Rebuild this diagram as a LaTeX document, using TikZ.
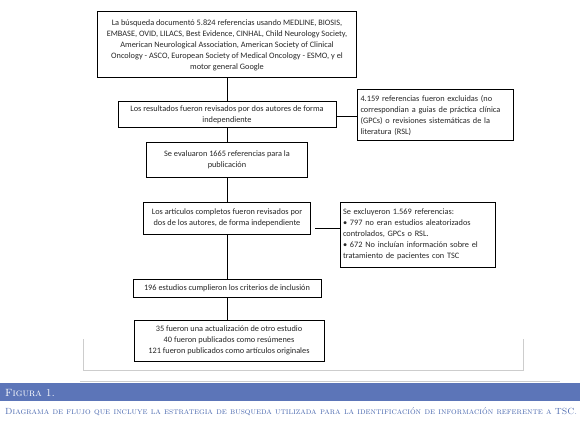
\documentclass[tikz,border=0pt]{standalone}
\usepackage{fontspec}
\newfontfamily\boxfont{Carlito}
\definecolor{barblue}{RGB}{92,117,184}
\definecolor{capblue}{RGB}{75,105,175}
\definecolor{framegray}{RGB}{205,205,205}
\begin{document}
\begin{tikzpicture}[x=1pt,y=-1pt,
  fbox/.style={draw=black,line width=1pt,inner sep=2pt,align=center,
    font=\boxfont\fontsize{8.3}{11}\selectfont,text=black!85},
  lbox/.style={fbox,align=left},
  conn/.style={draw=black,line width=1pt}]
\useasboundingbox (0,0) rectangle (580,422);
\node[fbox,minimum width=259pt,minimum height=66pt] (b1) at (227,45)
 {La búsqueda documentó 5.824 referencias usando MEDLINE, BIOSIS,\\
  EMBASE, OVID, LILACS, Best Evidence, CINHAL, Child Neurology Society,\\
  American Neurological Association, American Society of Clinical\\
  Oncology - ASCO, European Society of Medical Oncology - ESMO, y el\\
  motor general Google};
\node[fbox,minimum width=218pt,minimum height=26pt] (b2) at (227,115)
 {Los resultados fueron revisados por dos autores de forma\\ independiente};
\node[lbox,minimum width=156pt,minimum height=51pt,text width=150pt] (b3) at (435.5,115.5)
 {4.159 referencias fueron excluidas (no\\
  correspondian a guias de práctica clínica\\
  (GPCs) o revisiones sistemáticas de la\\
  literatura (RSL)};
\node[fbox,minimum width=161pt,minimum height=34pt] (b4) at (227,160)
 {Se evaluaron 1665 referencias para la\\ publicación};
\node[fbox,minimum width=167pt,minimum height=32pt] (b5) at (227,218)
 {Los artículos completos fueron revisados por\\ dos de los autores, de forma independiente};
\node[lbox,minimum width=155pt,minimum height=65pt,text width=149pt] (b6) at (417.5,234.5)
 {Se excluyeron 1.569 referencias:\\
  \textbullet\ 797 no eran estudios aleatorizados\\
  controlados, GPCs o RSL.\\
  \textbullet\ 672 No incluían información sobre el\\
  tratamiento de pacientes con TSC};
\node[fbox,minimum width=188pt,minimum height=18pt] (b7) at (227,288)
 {196 estudios cumplieron los criterios de inclusión};
\node[fbox,minimum width=190pt,minimum height=41pt] (b8) at (229,340.5)
 {35 fueron una actualización de otro estudio\\
  40 fueron publicados como resúmenes\\
  121 fueron publicados como artículos originales};
% connectors
\draw[conn] (b1.south) -- (b1.south |- b2.north);
\draw[conn] (b2.south) -- (b2.south |- b4.north);
\draw[conn] (b4.south) -- (b4.south |- b5.north);
\draw[conn] (b5.south) -- (b5.south |- b7.north);
\draw[conn] (b7.south) -- (b7.south |- b8.north);
\draw[conn] ([yshift=-2pt]b2.east) -- ([yshift=-2pt]b2.east -| b3.west);
\draw[conn,shorten <=4pt] ([yshift=-10pt]b5.east) -- ([yshift=-10pt]b5.east -| b6.west);
% frame
\draw[framegray,line width=0.8pt] (83,339) -- (83,370) -- (523,370) -- (523,339);
\draw[framegray,line width=0.8pt] (80,381) -- (560,381);
% caption bar
\fill[barblue] (0,383) rectangle (580,401);
\node[anchor=west,text=white,font=\fontsize{10.5}{11}\selectfont\scshape,inner sep=0pt] (fig) at (5,392.5) {Figura 1.};
\node[anchor=west,text=capblue,font=\fontsize{9}{10}\selectfont\scshape,inner sep=0pt] (cap) at (5,412)
 {\resizebox{572pt}{!}{Diagrama de flujo que incluye la estrategia de busqueda utilizada para la identificación de información referente a TSC.}};
\end{tikzpicture}
\end{document}
